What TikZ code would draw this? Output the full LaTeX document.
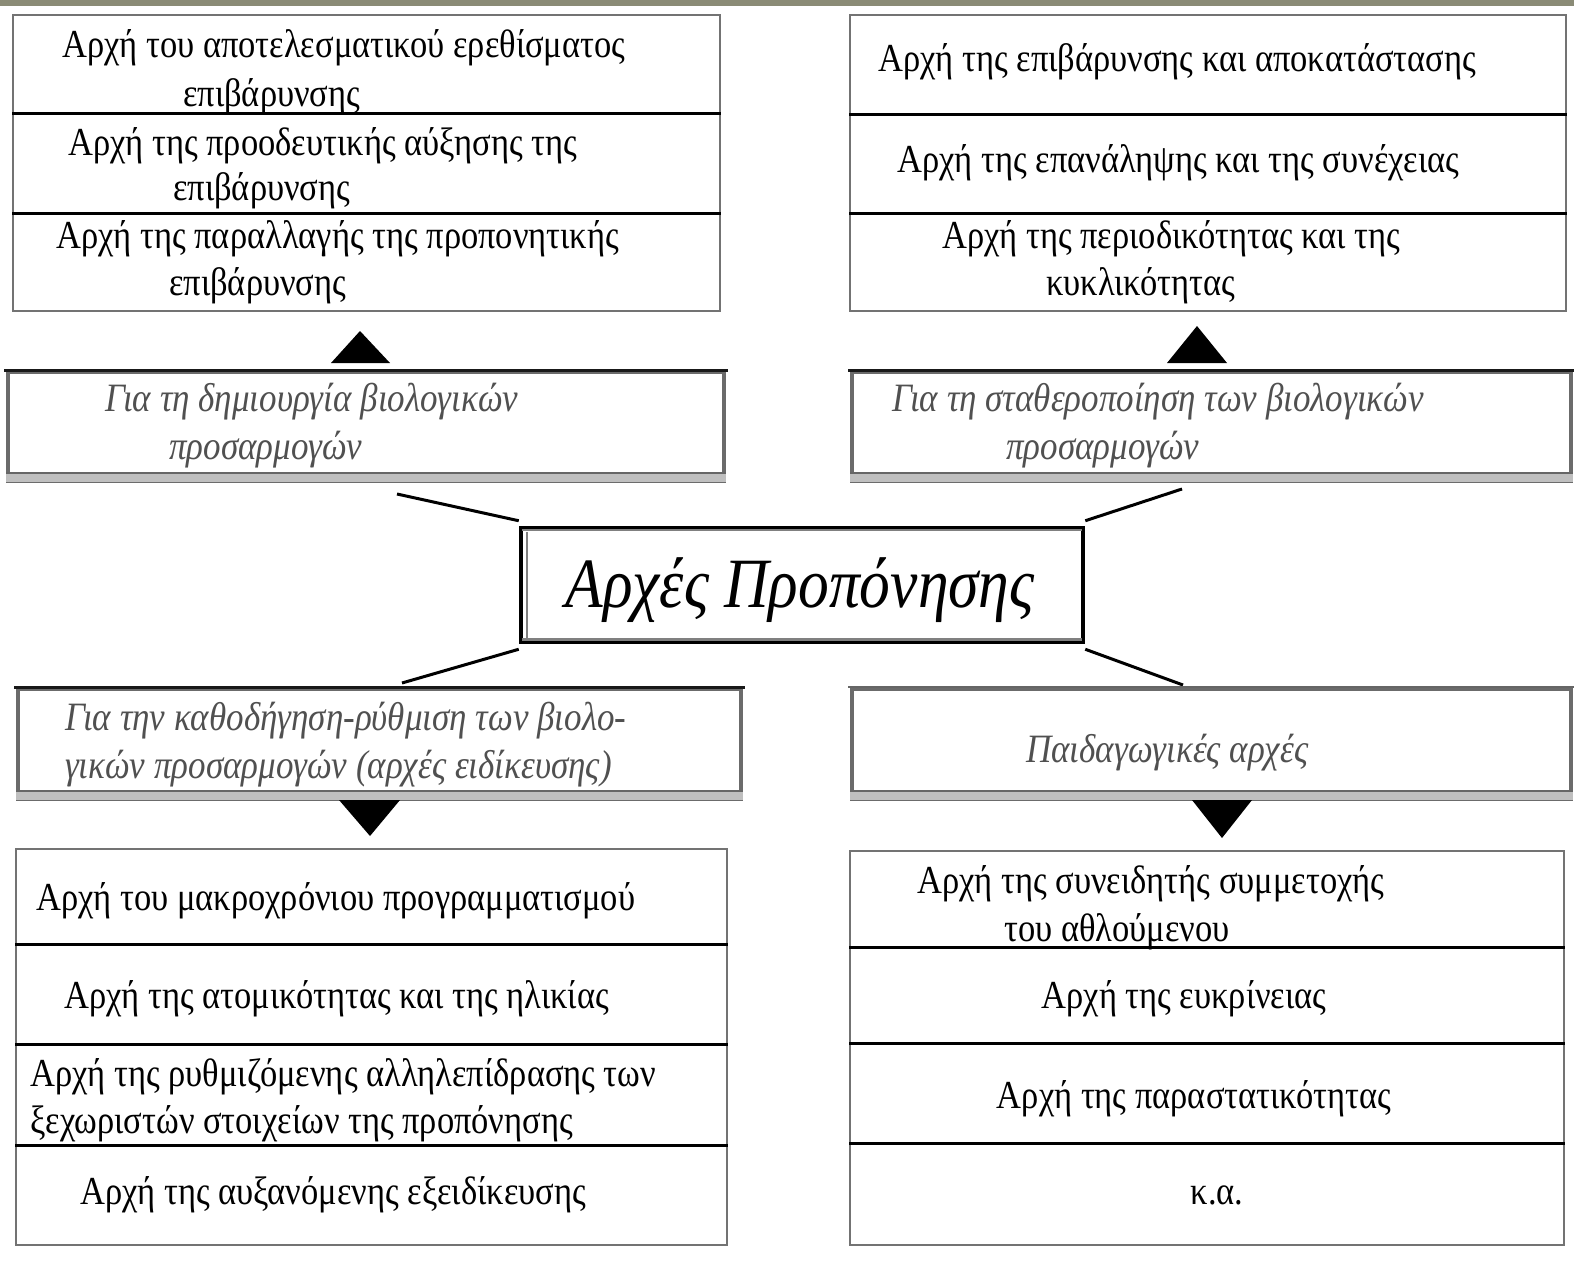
\documentclass[tikz,border=0pt]{standalone}
\usepackage{graphicx}
\usepackage{fontspec}
\setmainfont{Liberation Serif}
\definecolor{barcol}{RGB}{138,139,118}
\definecolor{itcol}{RGB}{80,80,80}
\newcommand\vstr[1]{\scalebox{1}[1.15]{#1}}
\begin{document}
\begin{tikzpicture}[x=1pt,y=-1pt,
  cell/.style={draw=black!55, line width=1.5pt, fill=white, inner sep=0pt},
  sepline/.style={draw=black, line width=3pt},
  midbox/.style={draw=black!58, line width=4pt, fill=white, inner sep=0pt},
  midtop/.style={draw=black!90, line width=3pt},
  midband/.style={fill=black!25},
  midline/.style={draw=black!60, line width=2.5pt},
  mainbox/.style={draw=black, line width=4.5pt, fill=white, inner sep=0pt},
  maininner/.style={draw=black!50, line width=1.8pt},
  txt/.style={anchor=west, inner sep=0pt, font=\fontsize{34.5}{40}\selectfont},
  ctxt/.style={anchor=center, inner sep=0pt, font=\fontsize{34.5}{40}\selectfont},
  itxt/.style={anchor=west, inner sep=0pt, text=itcol, font=\fontsize{35}{40}\selectfont\itshape},
  conn/.style={draw=black, line width=3pt},
  tri/.style={fill=black}
]
\useasboundingbox (0,0) rectangle (1574,1263);
\fill[barcol] (0,0) rectangle (1574,6);

% ---------- top-left stack
\node[cell, minimum width=707pt, minimum height=97.5pt] (tl1) at (366.5,63.75) {};
\node[cell, minimum width=707pt, minimum height=100.5pt] (tl2) at (366.5,162.75) {};
\node[cell, minimum width=707pt, minimum height=98pt] (tl3) at (366.5,262) {};
\draw[sepline] (tl1.south west) -- (tl1.south east);
\draw[sepline] (tl2.south west) -- (tl2.south east);
\node[txt] (tl1a) at (62,48) {\vstr{Αρχή του αποτελεσματικού ερεθίσματος}};
\node[txt] (tl1b) at (183,97) {\vstr{επιβάρυνσης}};
\node[txt] (tl2a) at (68,146) {\vstr{Αρχή της προοδευτικής αύξησης της}};
\node[txt] (tl2b) at (173,191) {\vstr{επιβάρυνσης}};
\node[txt] (tl3a) at (56,239) {\vstr{Αρχή της παραλλαγής της προπονητικής}};
\node[txt] (tl3b) at (169,286) {\vstr{επιβάρυνσης}};

% ---------- top-right stack
\node[cell, minimum width=716pt, minimum height=98.5pt] (tr1) at (1208,64.25) {};
\node[cell, minimum width=716pt, minimum height=99.5pt] (tr2) at (1208,163.25) {};
\node[cell, minimum width=716pt, minimum height=98pt] (tr3) at (1208,262) {};
\draw[sepline] (tr1.south west) -- (tr1.south east);
\draw[sepline] (tr2.south west) -- (tr2.south east);
\node[txt] (tr1a) at (878,62) {\vstr{Αρχή της επιβάρυνσης και αποκατάστασης}};
\node[txt] (tr2a) at (897,163) {\vstr{Αρχή της επανάληψης και της συνέχειας}};
\node[txt] (tr3a) at (942,239) {\vstr{Αρχή της περιοδικότητας και της}};
\node[txt] (tr3b) at (1046,286) {\vstr{κυκλικότητας}};

% ---------- upper middle boxes
\node[midbox, minimum width=716pt, minimum height=109pt] (ml) at (366,426.5) {};
\fill[midband] ([yshift=1pt]ml.south west) rectangle ([yshift=10pt]ml.south east);
\draw[midline] ([yshift=10pt]ml.south west) -- ([yshift=10pt]ml.south east);
\draw[midtop] ([xshift=-2pt]ml.north west) -- ([xshift=2pt]ml.north east);
\node[itxt] (mla) at (105,402) {\vstr{Για τη δημιουργία βιολογικών}};
\node[itxt] (mlb) at (169,450) {\vstr{προσαρμογών}};
\node[midbox, minimum width=719pt, minimum height=109pt] (mr) at (1211.5,426.5) {};
\fill[midband] ([yshift=1pt]mr.south west) rectangle ([yshift=10pt]mr.south east);
\draw[midline] ([yshift=10pt]mr.south west) -- ([yshift=10pt]mr.south east);
\draw[midtop] ([xshift=-2pt]mr.north west) -- ([xshift=2pt]mr.north east);
\node[itxt] (mra) at (892,402) {\vstr{Για τη σταθεροποίηση των βιολογικών}};
\node[itxt] (mrb) at (1006,450) {\vstr{προσαρμογών}};

% ---------- arrowheads (up)
\fill[tri] (331,363) -- (360,331) -- (390,363) -- cycle;
\fill[tri] (1167,363) -- (1197,326) -- (1227,363) -- cycle;

% ---------- centre box
\node[mainbox, minimum width=562pt, minimum height=114pt] (center) at (802,585) {};
\draw[maininner] ([shift={(8pt,-6pt)}]center.north west) -- ([shift={(8pt,6pt)}]center.south west);
\draw[maininner] ([shift={(3pt,-4pt)}]center.north west) -- ([shift={(-3pt,-4pt)}]center.north east);
\draw[maininner, line width=2.5pt] ([shift={(3pt,5pt)}]center.south west) -- ([shift={(-3pt,5pt)}]center.south east);
\node[anchor=center, inner sep=0pt, font=\fontsize{61.5}{66}\selectfont\itshape] (ctitle) at (800,590) {\vstr{Αρχές Προπόνησης}};

% ---------- connectors
\coordinate (ctl) at (397,494);
\coordinate (ctr) at (1182,489);
\coordinate (cbl) at (402,683);
\coordinate (cbr) at (1183,685);
\draw[conn] (ctl) -- ([yshift=5pt]center.north west);
\draw[conn] (ctr) -- ([yshift=5pt]center.north east);
\draw[conn] (cbl) -- ([yshift=-5pt]center.south west);
\draw[conn] (cbr) -- ([yshift=-5pt]center.south east);

% ---------- lower middle boxes
\node[midbox, minimum width=723pt, minimum height=110pt] (bl) at (379.5,744) {};
\fill[midband] ([yshift=1pt]bl.south west) rectangle ([yshift=10pt]bl.south east);
\draw[midline] ([yshift=10pt]bl.south west) -- ([yshift=10pt]bl.south east);
\draw[midtop] ([xshift=-2pt]bl.north west) -- ([xshift=2pt]bl.north east);
\node[itxt] (bla) at (65,721) {\vstr{Για την καθοδήγηση-ρύθμιση των βιολο-}};
\node[itxt] (blb) at (65,769) {\vstr{γικών προσαρμογών (αρχές ειδίκευσης)}};
\node[midbox, minimum width=719pt, minimum height=110pt] (br) at (1211.5,744) {};
\fill[midband] ([yshift=1pt]br.south west) rectangle ([yshift=10pt]br.south east);
\draw[midline] ([yshift=10pt]br.south west) -- ([yshift=10pt]br.south east);
\draw[midline] ([xshift=-2pt]br.north west) -- ([xshift=2pt]br.north east);
\node[itxt] (bra) at (1026,753) {\vstr{Παιδαγωγικές αρχές}};

% ---------- arrowheads (down)
\fill[tri] (339,800) -- (400,800) -- (370,836) -- cycle;
\fill[tri] (1192,800) -- (1252,800) -- (1222,838) -- cycle;

% ---------- bottom-left stack
\node[cell, minimum width=711pt, minimum height=95pt] (bl1) at (371.5,896.5) {};
\node[cell, minimum width=711pt, minimum height=100pt] (bl2) at (371.5,994) {};
\node[cell, minimum width=711pt, minimum height=101pt] (bl3) at (371.5,1094.5) {};
\node[cell, minimum width=711pt, minimum height=100pt] (bl4) at (371.5,1195) {};
\draw[sepline] (bl1.south west) -- (bl1.south east);
\draw[sepline] (bl2.south west) -- (bl2.south east);
\draw[sepline] (bl3.south west) -- (bl3.south east);
\node[txt] (bl1a) at (36,901) {\vstr{Αρχή του μακροχρόνιου προγραμματισμού}};
\node[txt] (bl2a) at (64,999) {\vstr{Αρχή της ατομικότητας και της ηλικίας}};
\node[txt] (bl3a) at (30,1077) {\vstr{Αρχή της ρυθμιζόμενης αλληλεπίδρασης των}};
\node[txt] (bl3b) at (30,1124) {\vstr{ξεχωριστών στοιχείων της προπόνησης}};
\node[txt] (bl4a) at (80,1195) {\vstr{Αρχή της αυξανόμενης εξειδίκευσης}};

% ---------- bottom-right stack
\node[cell, minimum width=714pt, minimum height=96pt] (br1) at (1207,899) {};
\node[cell, minimum width=714pt, minimum height=96pt] (br2) at (1207,995) {};
\node[cell, minimum width=714pt, minimum height=100pt] (br3) at (1207,1093) {};
\node[cell, minimum width=714pt, minimum height=102pt] (br4) at (1207,1194) {};
\draw[sepline] (br1.south west) -- (br1.south east);
\draw[sepline] (br2.south west) -- (br2.south east);
\draw[sepline] (br3.south west) -- (br3.south east);
\node[txt] (br1a) at (917,884) {\vstr{Αρχή της συνειδητής συμμετοχής}};
\node[ctxt] (br1b) at (1117,932) {\vstr{του αθλούμενου}};
\node[ctxt] (br2a) at (1184,999) {\vstr{Αρχή της ευκρίνειας}};
\node[ctxt] (br3a) at (1194,1099) {\vstr{Αρχή της παραστατικότητας}};
\node[ctxt] (br4a) at (1217,1195) {\vstr{κ.α.}};
\end{tikzpicture}
\end{document}
